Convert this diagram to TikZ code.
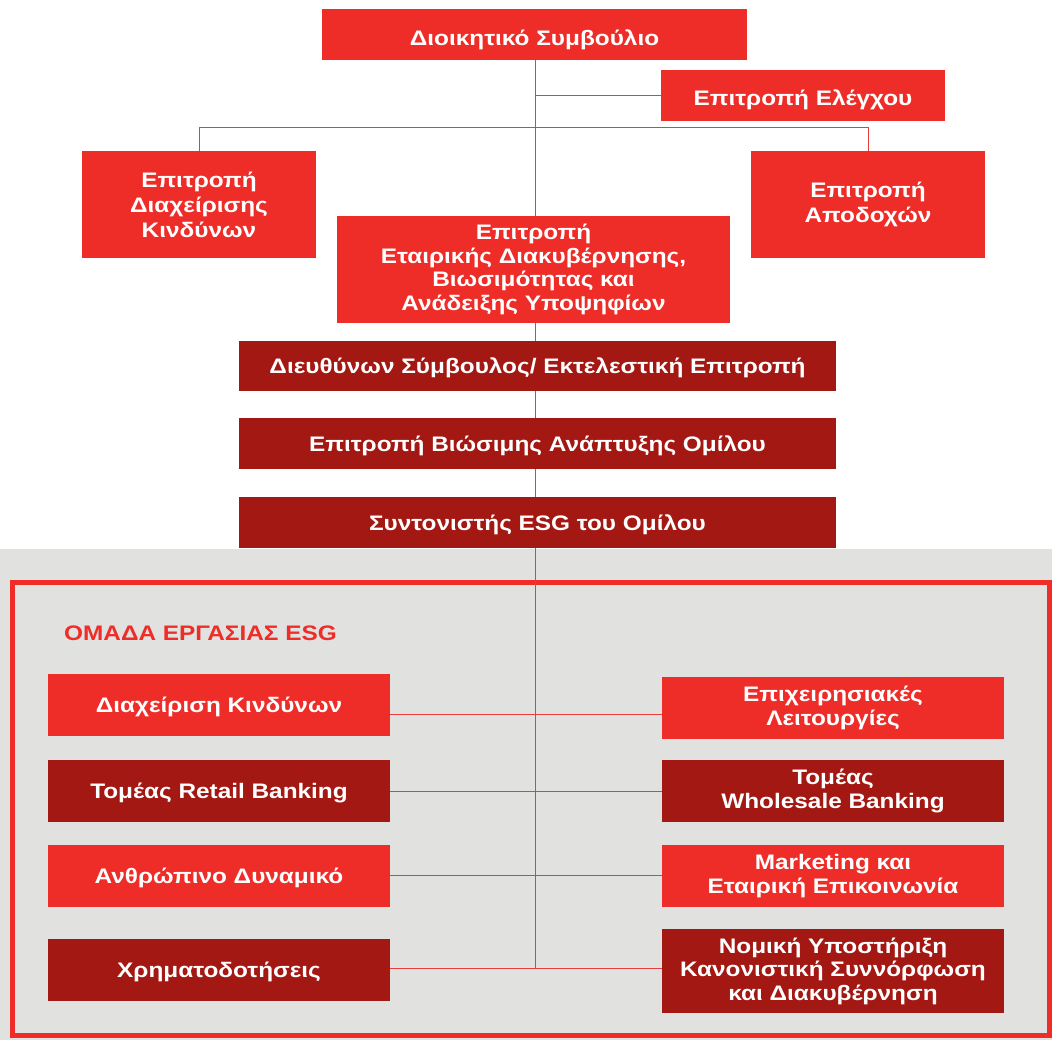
\documentclass[tikz,border=0pt]{standalone}
\usepackage{fontspec}
\setmainfont{Liberation Sans}[FakeStretch=1.16]
\definecolor{brightred}{HTML}{EE2D29}
\definecolor{darkred}{HTML}{A31813}
\definecolor{bggray}{HTML}{E1E1DF}
\definecolor{linered}{HTML}{EA3D39}
\pgfdeclarelayer{bgl}
\pgfdeclarelayer{lines}
\pgfsetlayers{bgl,lines,main}
\tikzset{
  box/.style={rectangle, inner sep=0pt, text=white, font=\bfseries\fontsize{21}{23.5}\selectfont, align=center},
  lightbox/.style={box, fill=brightred},
  darkbox/.style={box, fill=darkred},
  oneline/.style={text height=15pt, text depth=0pt},
  wideleading/.style={font=\bfseries\fontsize{21}{25}\selectfont},
  conn/.style={draw=linered, line width=1pt},
}
\begin{document}
\begin{tikzpicture}[x=1pt,y=-1pt]
\useasboundingbox (0,0) rectangle (1052,1040);
% top part
\node[lightbox, minimum width=425pt, minimum height=51pt, text height=23pt, text depth=0pt] (board) at (534.5,34.5) {Διοικητικό Συμβούλιο};
\node[lightbox, minimum width=284pt, minimum height=51pt, text height=20pt, text depth=0pt] (audit) at (803,95.5) {Επιτροπή Ελέγχου};
\node[lightbox, wideleading, minimum width=234pt, minimum height=107pt] (risk) at (199,204.5) {Επιτροπή\\Διαχείρισης\\Κινδύνων};
\node[lightbox, wideleading, minimum width=234pt, minimum height=107pt] (remun) at (868,204.5) {Επιτροπή\\Αποδοχών};
\node[lightbox, minimum width=393pt, minimum height=107pt] (gov) at (533.5,269.5) {Επιτροπή\\Εταιρικής Διακυβέρνησης,\\Βιωσιμότητας και\\Ανάδειξης Υποψηφίων};
\node[darkbox, oneline, minimum width=597pt, minimum height=50pt] (ceo) at (537.5,366) {Διευθύνων Σύμβουλος/ Εκτελεστική Επιτροπή};
\node[darkbox, oneline, minimum width=597pt, minimum height=51pt] (sdc) at (537.5,443.5) {Επιτροπή Βιώσιμης Ανάπτυξης Ομίλου};
\node[darkbox, oneline, minimum width=597pt, minimum height=51pt] (coord) at (537.5,522.5) {Συντονιστής ESG του Ομίλου};
% working group
\node[anchor=west, text=brightred, font=\bfseries\fontsize{21}{23.5}\selectfont, inner sep=0pt, oneline] (title) at (64,633) {ΟΜΑΔΑ ΕΡΓΑΣΙΑΣ ESG};
\node[lightbox, oneline, minimum width=342pt, minimum height=62pt] (l1) at (219,705) {Διαχείριση Κινδύνων};
\node[darkbox, oneline, minimum width=342pt, minimum height=62pt] (l2) at (219,791) {Τομέας Retail Banking};
\node[lightbox, oneline, minimum width=342pt, minimum height=62pt] (l3) at (219,876) {Ανθρώπινο Δυναμικό};
\node[darkbox, oneline, minimum width=342pt, minimum height=62pt] (l4) at (219,970) {Χρηματοδοτήσεις};
\node[lightbox, minimum width=342pt, minimum height=62pt] (r1) at (833,708) {Επιχειρησιακές\\Λειτουργίες};
\node[darkbox, minimum width=342pt, minimum height=62pt] (r2) at (833,791) {Τομέας\\Wholesale Banking};
\node[lightbox, minimum width=342pt, minimum height=62pt] (r3) at (833,876) {Marketing και\\Εταιρική Επικοινωνία};
\node[darkbox, minimum width=342pt, minimum height=84pt] (r4) at (833,971) {Νομική Υποστήριξη\\Κανονιστική Συννόρφωση\\και Διακυβέρνηση};
% coordinates on the spine
\coordinate (branch) at (535,128);
\coordinate (c1) at (535,714);
\coordinate (c2) at (535,791);
\coordinate (c3) at (535,875);
\coordinate (c4) at (535,968);
\begin{pgfonlayer}{bgl}
  \fill[bggray] (0,549) rectangle (1052,1040);
  \draw[brightred, line width=5pt] (12.5,582) rectangle (1049.5,1035.5);
\end{pgfonlayer}
\begin{pgfonlayer}{lines}
  \draw[conn] (board.south -| c4) -- (c4);
  \draw[conn] (audit.west) -- (audit.west -| branch);
  \draw[conn] (risk.north) -- (risk.north |- branch) -- (remun.north |- branch) -- (remun.north);
  \draw[conn] (l1.east |- c1) -- (r1.west |- c1);
  \draw[conn] (l2.east |- c2) -- (r2.west |- c2);
  \draw[conn] (l3.east |- c3) -- (r3.west |- c3);
  \draw[conn] (l4.east |- c4) -- (r4.west |- c4);
\end{pgfonlayer}
\end{tikzpicture}
\end{document}
